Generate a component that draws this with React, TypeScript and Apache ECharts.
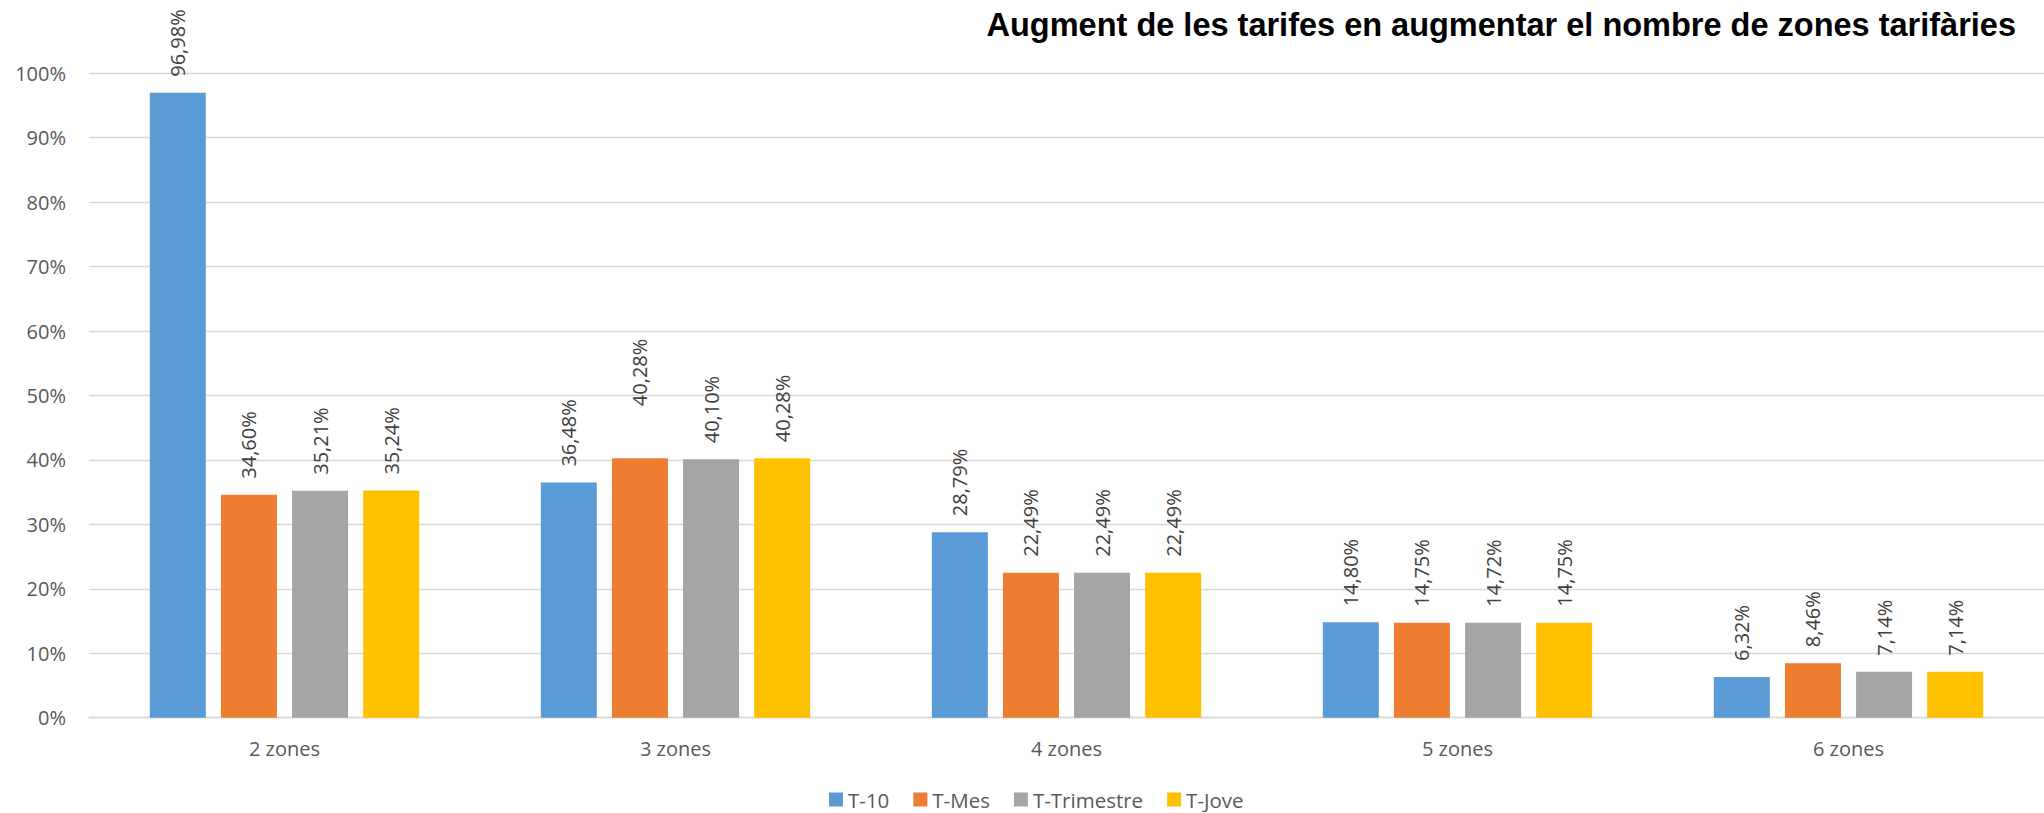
import React, { useEffect, useRef } from "react";
import * as echarts from "echarts";

const categories = ["2 zones", "3 zones", "4 zones", "5 zones", "6 zones"];
const seriesNames = ["T-10", "T-Mes", "T-Trimestre", "T-Jove"];
const t10 = [96.98, 36.48, 28.79, 14.8, 6.32];
const tMes = [34.6, 40.28, 22.49, 14.75, 8.46];
const tTrimestre = [35.21, 40.1, 22.49, 14.72, 7.14];
const tJove = [35.24, 40.28, 22.49, 14.75, 7.14];
const colors = ["#5B9BD5", "#ED7D31", "#A5A5A5", "#FFC000"];
const yTicks = [0, 10, 20, 30, 40, 50, 60, 70, 80, 90, 100];
const titleText = "Augment de les tarifes en augmentar el nombre de zones tarifàries";

const FONT = "'Open Sans', 'Liberation Sans', sans-serif";

export default function App() {
  const ref = useRef<HTMLDivElement>(null);
  useEffect(() => {
    if (!ref.current) return;
    const chart = echarts.init(ref.current, undefined, { renderer: "svg" });
    const all = [t10, tMes, tTrimestre, tJove];
    const fmt = (v: number) => v.toFixed(2).replace(".", ",") + "%";
    const series = all.map((vals, si) => ({
      name: seriesNames[si],
      type: "bar",
      barWidth: 56,
      barGap: "27%",
      itemStyle: { color: colors[si] },
      label: {
        show: true,
        position: "top",
        rotate: 90,
        align: "left",
        verticalAlign: "middle",
        distance: 16,
        fontFamily: FONT,
        fontSize: 20,
        color: "#404040",
        formatter: (p: any) => fmt(p.value),
      },
      data: vals.map((v, ci) =>
        si === 1 && ci === 1 ? { value: v, label: { distance: 52 } } : v
      ),
    }));
    chart.setOption({
      animation: false,
      backgroundColor: "#ffffff",
      title: {
        text: titleText,
        right: 28,
        top: 8,
        padding: 0,
        textStyle: {
          fontFamily: "'Liberation Sans', Arial, sans-serif",
          fontWeight: "bold",
          fontSize: 32.5,
          color: "#000000",
        },
      },
      legend: {
        data: seriesNames,
        left: 829,
        top: 789,
        padding: 0,
        itemWidth: 14,
        itemHeight: 14,
        itemGap: 24,
        icon: "rect",
        textStyle: { fontFamily: FONT, fontSize: 20.5, color: "#595959" },
      },
      grid: { left: 89, right: -9, top: 73.3, bottom: 95.3, containLabel: false },
      xAxis: {
        type: "category",
        data: categories,
        axisTick: { show: false },
        axisLine: { lineStyle: { color: "#d9d9d9", width: 1.3 } },
        axisLabel: { fontFamily: FONT, fontSize: 20, color: "#595959", margin: 21 },
      },
      yAxis: {
        type: "value",
        min: yTicks[0],
        max: yTicks[yTicks.length - 1],
        interval: 10,
        axisLine: { show: false },
        axisTick: { show: false },
        splitLine: { lineStyle: { color: "#d9d9d9", width: 1.3 } },
        axisLabel: {
          fontFamily: FONT,
          fontSize: 20,
          color: "#595959",
          margin: 23,
          formatter: (v: number) => `${v}%`,
        },
      },
      series,
    });
    return () => chart.dispose();
  }, []);
  return (
    <div
      ref={ref}
      style={{ position: "fixed", left: 0, top: 0, width: "2044px", height: "813px" }}
    />
  );
}
